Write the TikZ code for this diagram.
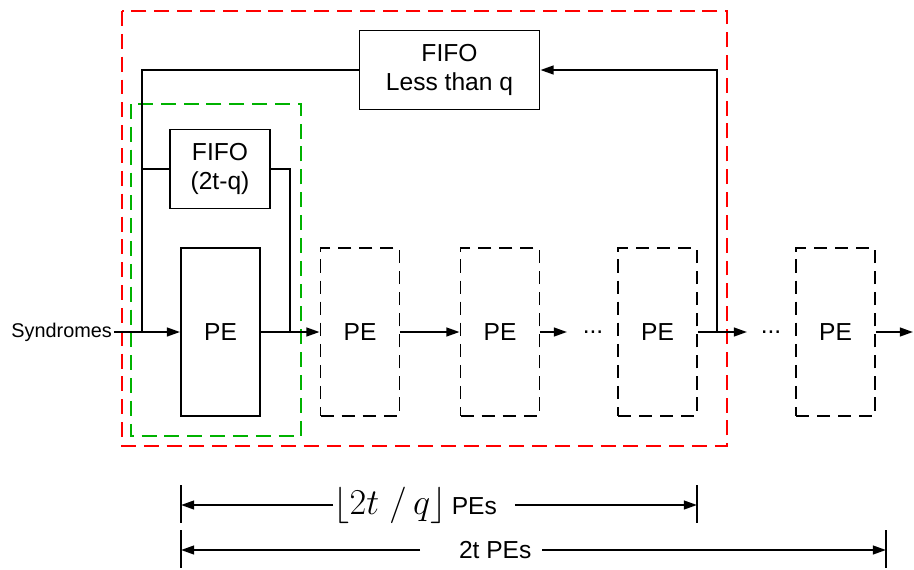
\documentclass[tikz,border=0pt]{standalone}
\usepackage[no-math]{fontspec}
\setmainfont{Liberation Sans}
\usetikzlibrary{arrows.meta}

\begin{document}
\begin{tikzpicture}[
            x=0.02cm, y=-0.02cm,
            line cap=butt,
            wire/.style={line width=1.1pt},
            flow arrow/.style={wire, -{Triangle[length=7.5pt, width=5pt]}},
            pe box/.style={draw, line width=1.1pt, minimum width=1.58cm, minimum height=3.36cm,
                inner sep=0pt, font=\fontsize{14}{17}\selectfont},
            ghost pe/.style={pe box, dash pattern=on 7.5pt off 4.5pt},
            fifo box/.style={draw, line width=1.1pt, minimum height=1.58cm, inner sep=0pt,
                align=center, font=\fontsize{14}{17}\selectfont},
            red frame/.style={line width=1.1pt, red, dash pattern=on 8.5pt off 4.5pt},
            green frame/.style={line width=1.1pt, green!70!black, dash pattern=on 8.5pt off 4.5pt},
            tick/.style={line width=1.1pt},
            span label/.style={inner sep=0pt, anchor=west, font=\fontsize{14}{17}\selectfont},
        ]
        \useasboundingbox (0,0) rectangle (914,569);
        \def\ymain{332}

        % Grouping frames.
        \draw[red frame] (122,11) rectangle (727,446);
        \draw[green frame] (131,104) rectangle (301,436);

        % Processing elements along the main path.
        \node[pe box] (pe1) at (220.5,\ymain) {PE};
        \node[ghost pe] (pe2) at (360,\ymain) {PE};
        \node[ghost pe] (pe3) at (500,\ymain) {PE};
        \node[ghost pe] (pe4) at (657.5,\ymain) {PE};
        \node[ghost pe] (pe5) at (835.5,\ymain) {PE};

        \node[fifo box, minimum width=2cm] (fifoshort) at (220,169) {FIFO\\(2t-q)};
        \node[fifo box, minimum width=3.6cm] (fifolong) at (449.5,70) {FIFO\\Less than q};

        \node[anchor=east, inner sep=1pt, font=\fontsize{11.3}{13}\selectfont] (syn) at (114,\ymain) {Syndromes};
        \node[font=\fontsize{14}{17}\selectfont] (dotsa) at (593,\ymain) {...};
        \node[font=\fontsize{14}{17}\selectfont] (dotsb) at (771,\ymain) {...};

        \coordinate (jleft) at (142,\ymain);
        \coordinate (jright) at (290,\ymain);
        \coordinate (jback) at (717,\ymain);
        \coordinate (outa) at (567,\ymain);
        \coordinate (outb) at (747,\ymain);
        \coordinate (outc) at (913,\ymain);

        % Main data path.
        \draw[flow arrow] (syn.east) -- (pe1.west);
        \draw[wire] (pe1.east) -- (jright);
        \draw[flow arrow] (jright) -- (pe2.west);
        \draw[flow arrow] (pe2.east) -- (pe3.west);
        \draw[flow arrow] (pe3.east) -- (outa);
        \draw[flow arrow] (pe4.east) -- (outb);
        \draw[flow arrow] (pe5.east) -- (outc);

        % Bypass and feedback through the FIFOs.
        \draw[wire] (jleft) |- (fifoshort.west);
        \draw[wire] (jleft) |- (fifolong.west);
        \draw[wire] (fifoshort.east) -| (jright);
        \draw[flow arrow] (jback) |- (fifolong.east);

        % Span markers.
        \draw[tick] (181,485) -- (181,523);
        \draw[tick] (697,485) -- (697,523);
        \draw[tick] (181,530) -- (181,568);
        \draw[tick] (886,530) -- (886,568);
        \coordinate (spanal) at (181,505);
        \coordinate (spanar) at (697,505);
        \coordinate (spanbl) at (181,550);
        \coordinate (spanbr) at (886,550);

        \node[span label] (spana) at (333,505)
            {{\fontsize{20}{22}\selectfont$\Bigl\lfloor 2t\;/\,q\Bigr\rfloor$}\hspace*{3pt}PEs\hspace*{10pt}};
        \node[span label] (spanb) at (420,550) {\hspace*{22pt}2t PEs\hspace*{6pt}};

        \draw[flow arrow] (spana.west) -- (spanal);
        \draw[flow arrow] (spana.east) -- (spanar);
        \draw[flow arrow] (spanb.west) -- (spanbl);
        \draw[flow arrow] (spanb.east) -- (spanbr);
\end{tikzpicture}
\end{document}
